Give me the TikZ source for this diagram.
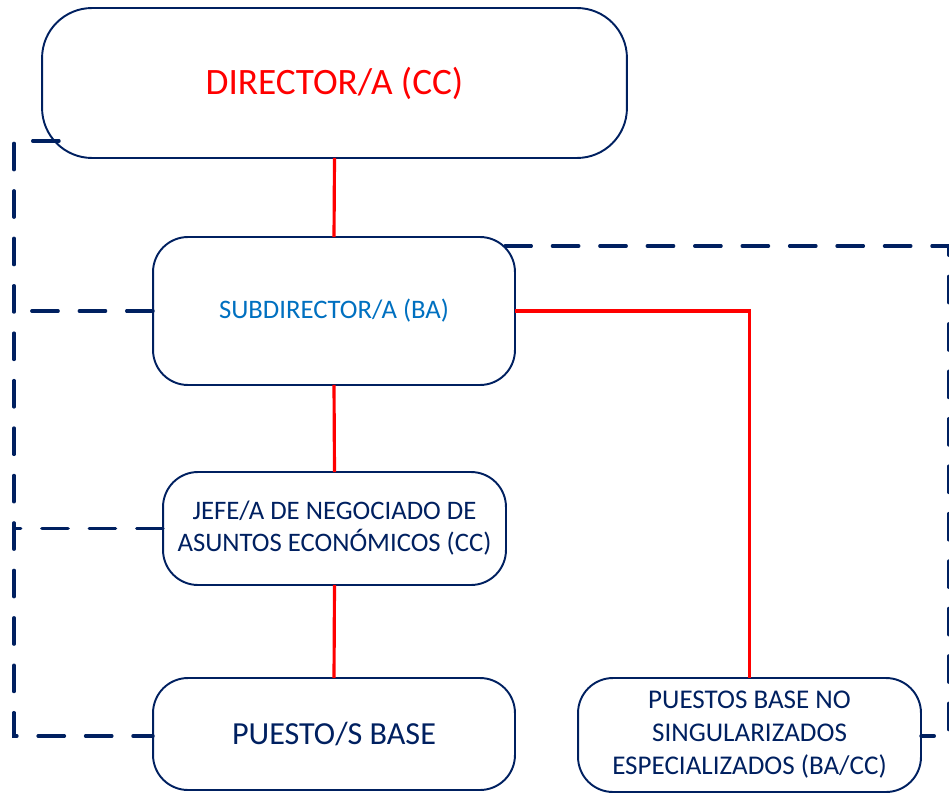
\documentclass[tikz,border=0pt]{standalone}
\usepackage{fontspec}
\setmainfont{Carlito}
\usetikzlibrary{positioning}
\definecolor{navy}{HTML}{002060}
\definecolor{subblue}{HTML}{0070C0}

\begin{document}
\begin{tikzpicture}[x=0.02cm, y=-0.02cm,
	box/.style={draw=navy, line width=1.1pt, rounded corners=0.7cm, inner sep=0pt, outer sep=0pt, align=center, text=navy},
	redline/.style={red, line width=1.8pt},
	dashline/.style={navy, line width=1.9pt, line cap=round, dash pattern=on 15pt off 12pt}]

	\useasboundingbox (0,0) rectangle (949,794);

	\node (dir) [box, rounded corners=1cm, minimum width=11.7cm, minimum height=3cm, text=red, font=\fontsize{21.2}{25}\selectfont] at (334.5,83) {DIRECTOR/A (CC)};
	\node (sub) [box, minimum width=7.24cm, minimum height=2.96cm, text=subblue, font=\fontsize{15.2}{18}\selectfont] at (334,311) {SUBDIRECTOR/A (BA)};
	\node (jefe) [box, minimum width=6.86cm, minimum height=2.26cm, font=\fontsize{15.2}{18.2}\selectfont] at (334.5,528.5) {JEFE/A DE NEGOCIADO DE\\ASUNTOS ECONÓMICOS (CC)};
	\node (base) [box, minimum width=7.24cm, minimum height=2.24cm, font=\fontsize{18.3}{21}\selectfont] at (334,734) {PUESTO/S BASE};
	\node (esp) [box, minimum width=6.86cm, minimum height=2.28cm, font=\fontsize{15.4}{18.8}\selectfont] at (749.5,735) {PUESTOS BASE NO\\SINGULARIZADOS\\ESPECIALIZADOS (BA/CC)};

	\coordinate (lt) at (14,141);
	\coordinate (lb) at (14,736);
	\coordinate (rt) at (949,246);
	\coordinate (rb) at (949,736);

	\draw [redline] (dir.south) -- (sub.north);
	\draw [redline] (sub.south) -- (jefe.north);
	\draw [redline] (jefe.south) -- (base.north);
	\draw [redline] (sub.east) -- (sub.east -| esp.north) -- (esp.north);

	\draw [dashline] ([xshift=0.34cm]lt -| dir.west) -- (lt) -- (lb) -- (lb -| base.west);
	\draw [dashline] (sub.west) -- (sub.west -| lt);
	\draw [dashline] (jefe.west) -- (jefe.west -| lt);
	\draw [dashline] ([xshift=-0.2cm]rt -| sub.east) -- (rt) -- (rb) -- (rb -| esp.east);

\end{tikzpicture}
\end{document}
